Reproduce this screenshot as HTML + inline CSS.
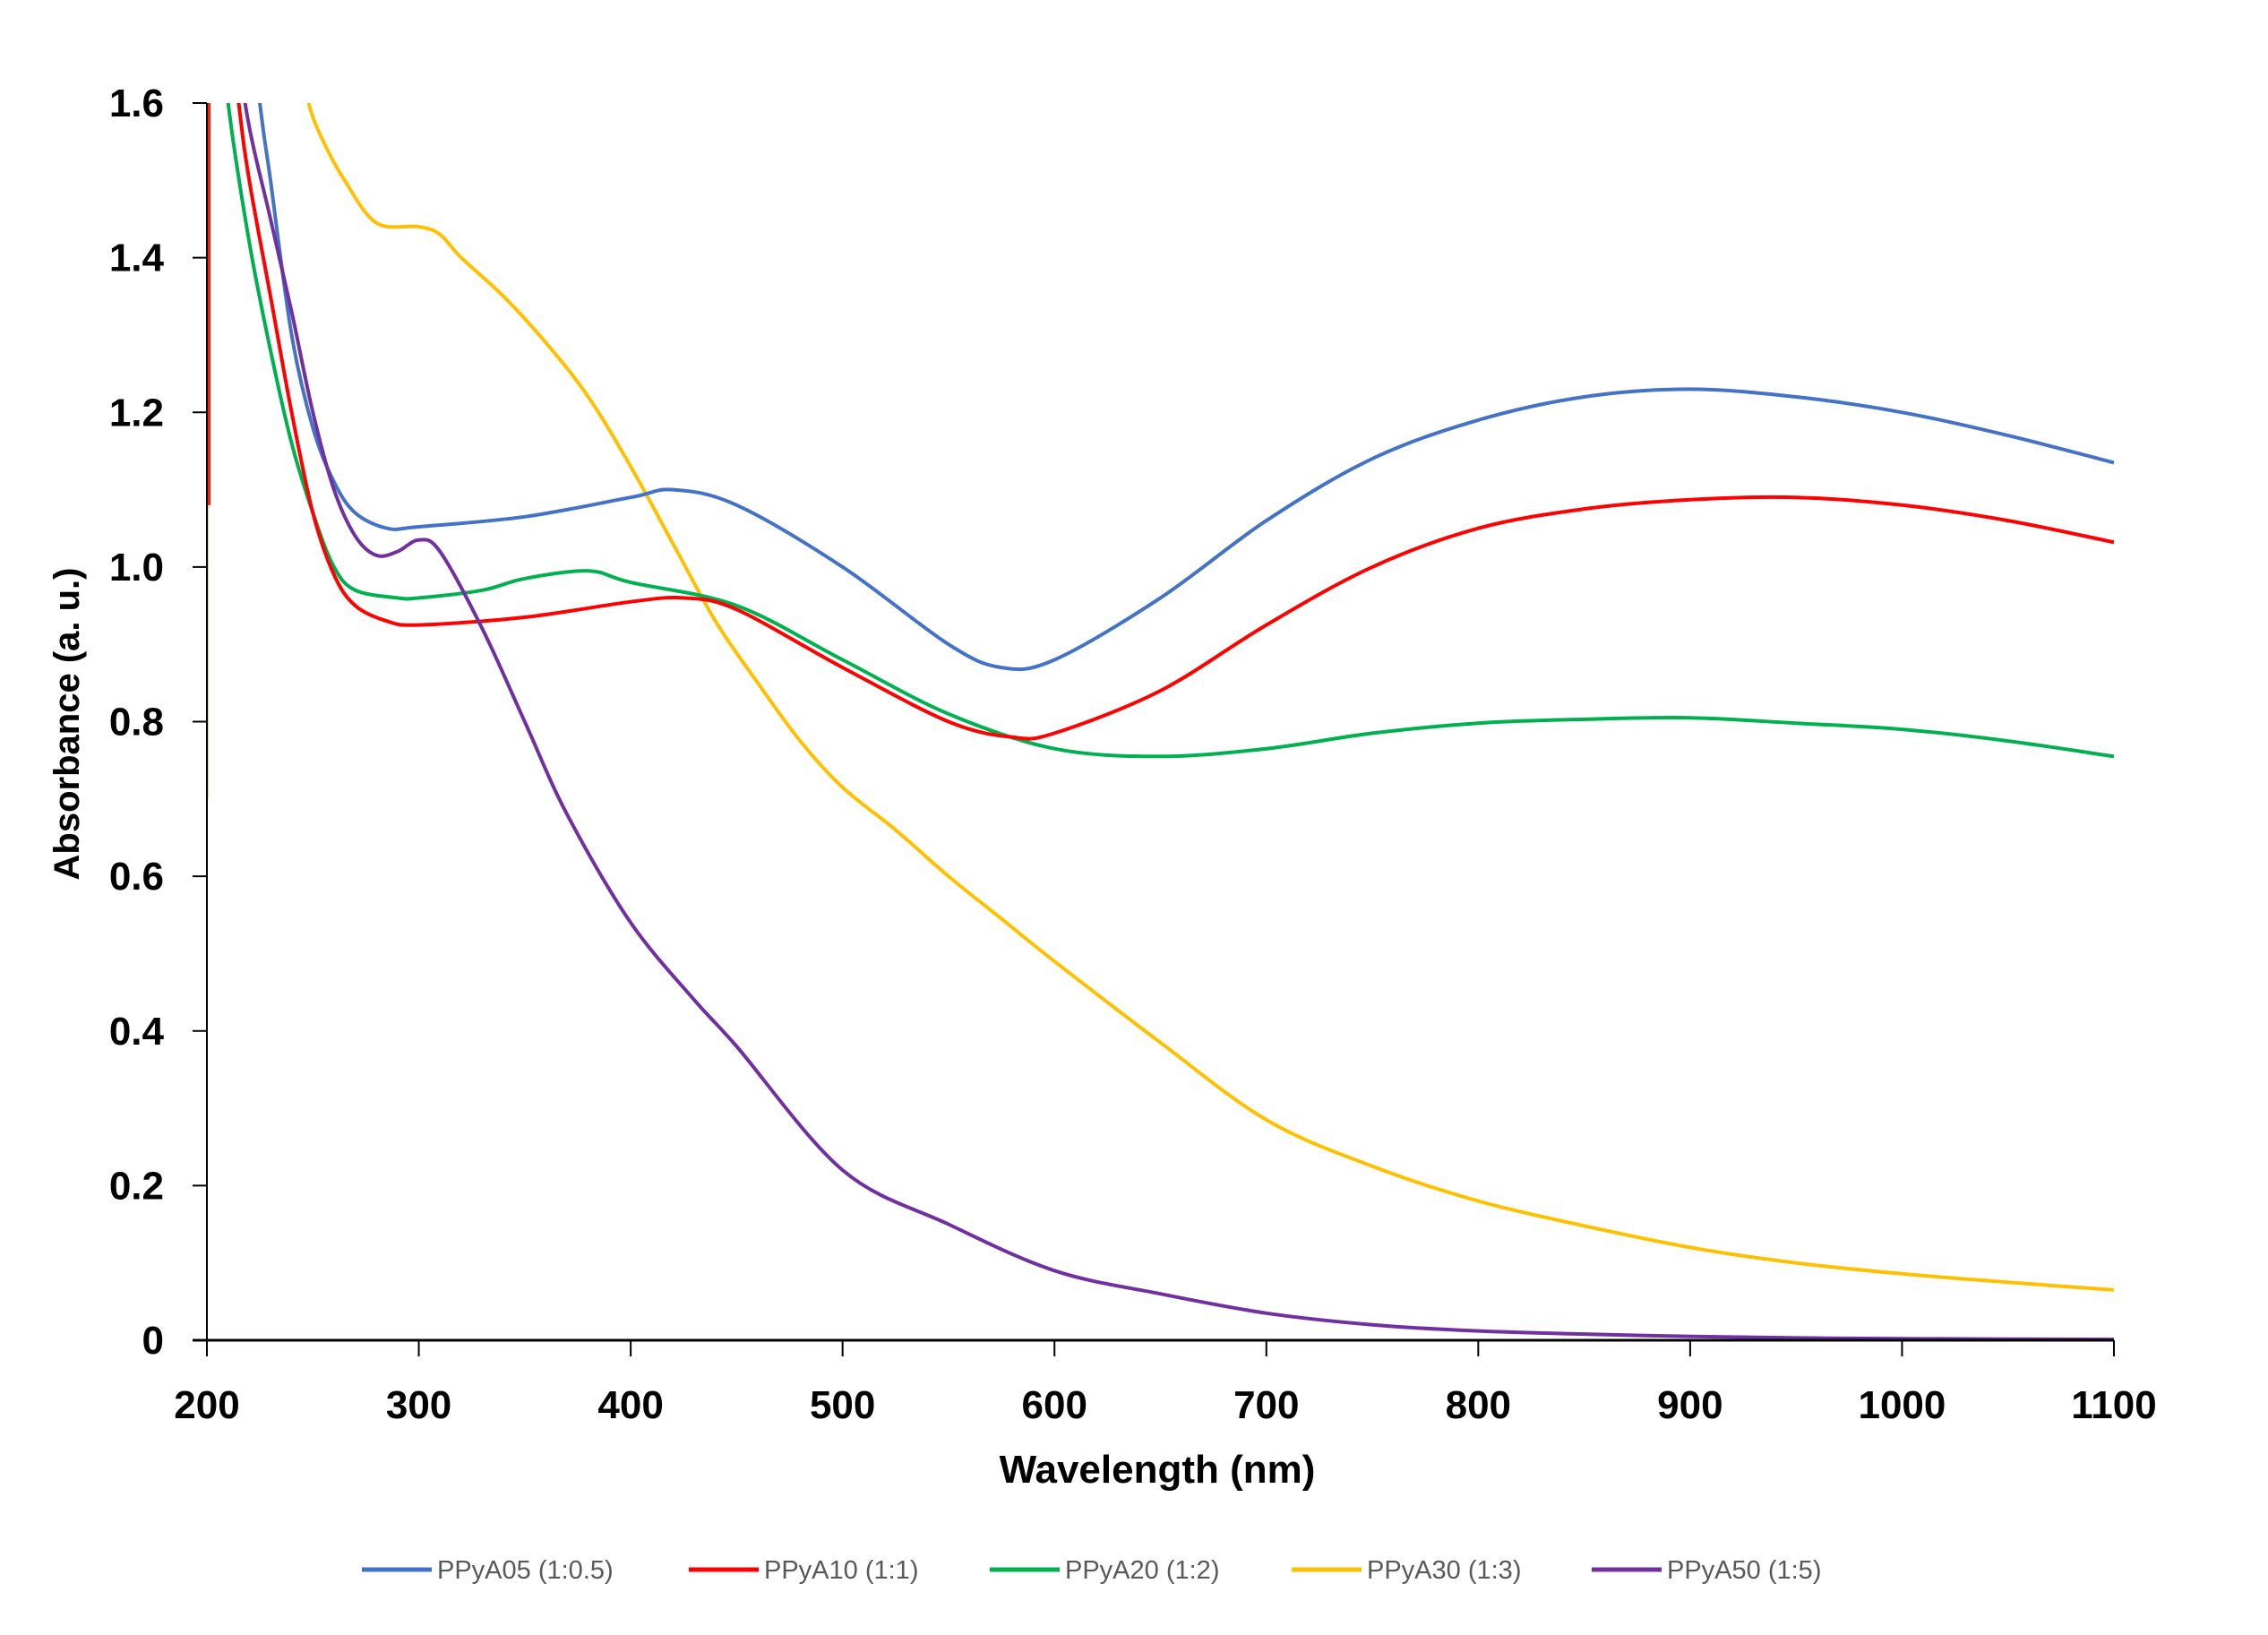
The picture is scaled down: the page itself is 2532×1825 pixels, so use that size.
<!DOCTYPE html>
<html><head><meta charset="utf-8"><style>
html,body{margin:0;padding:0;background:#fff;}
svg{display:block;}
text{font-family:"Liberation Sans",Arial,sans-serif;}
</style></head><body>
<svg id="chart" width="2532" height="1825" viewBox="0 0 2532 1825">
<defs><clipPath id="plotclip"><rect x="231" y="115" width="2135" height="1385"/></clipPath></defs>
<g id="series" clip-path="url(#plotclip)"></g>
<g id="axes"></g>
<text x="1292" y="1655" text-anchor="middle" font-size="44" font-weight="bold">Wavelength (nm)</text>
<text transform="translate(88,808) rotate(-90)" text-anchor="middle" font-size="40" font-weight="bold">Absorbance (a. u.)</text>
<g id="legend"></g>
</svg>
<script>
const xTicks = [200,300,400,500,600,700,800,900,1000,1100];
const yTicks = [0,0.2,0.4,0.6,0.8,1.0,1.2,1.4,1.6];
const yTickLabels = ["0","0.2","0.4","0.6","0.8","1.0","1.2","1.4","1.6"];
const seriesNames = ["PPyA05 (1:0.5)","PPyA10 (1:1)","PPyA20 (1:2)","PPyA30 (1:3)","PPyA50 (1:5)"];
const seriesColors = ["#4472C4","#FF0000","#00B050","#FFC000","#7030A0"];
const wlBlue = [215,225,230,240,250,260,270,285,300,350,400,420,450,500,550,575,600,650,700,750,800,850,900,950,1000,1050,1100];
const absBlue = [1.85,1.6,1.5,1.3,1.18,1.11,1.07,1.05,1.052,1.065,1.09,1.10,1.08,1.0,0.90,0.87,0.88,0.96,1.06,1.14,1.19,1.22,1.23,1.22,1.20,1.17,1.135];
const wlRed = [207,215,220,230,240,250,260,270,285,300,350,400,425,450,500,550,580,600,650,700,750,800,850,900,950,1000,1050,1100];
const absRed = [1.8,1.6,1.5,1.35,1.2,1.07,0.99,0.95,0.93,0.925,0.935,0.955,0.96,0.945,0.87,0.80,0.78,0.785,0.84,0.925,1.0,1.05,1.075,1.087,1.09,1.08,1.06,1.032];
const wlGreen = [203,210,220,230,240,250,260,270,290,300,330,350,380,400,450,500,550,600,650,700,750,800,850,900,950,1000,1050,1100];
const absGreen = [1.8,1.6,1.42,1.28,1.16,1.07,1.0,0.97,0.96,0.96,0.97,0.985,0.995,0.98,0.95,0.88,0.81,0.765,0.755,0.765,0.785,0.798,0.803,0.805,0.798,0.79,0.775,0.755];
const wlYellow = [240,248,255,265,280,300,310,320,340,360,380,400,420,440,460,480,500,525,550,575,600,650,700,750,800,850,900,950,1000,1050,1100];
const absYellow = [1.7,1.6,1.55,1.5,1.445,1.44,1.43,1.40,1.35,1.29,1.22,1.13,1.03,0.93,0.85,0.775,0.715,0.66,0.60,0.545,0.49,0.385,0.285,0.225,0.18,0.148,0.12,0.10,0.086,0.075,0.065];
const wlPurple = [210,218,230,240,250,260,270,280,290,300,310,330,350,370,400,430,450,500,550,600,650,700,750,800,850,900,950,1000,1100];
const absPurple = [1.8,1.6,1.45,1.33,1.2,1.1,1.04,1.015,1.02,1.035,1.02,0.92,0.80,0.68,0.54,0.44,0.38,0.22,0.15,0.09,0.06,0.035,0.02,0.012,0.008,0.005,0.003,0.002,0.001];
const seriesWl = [wlBlue,wlRed,wlGreen,wlYellow,wlPurple];
const seriesAbs = [absBlue,absRed,absGreen,absYellow,absPurple];
const spikeRedAbs = [1.08,1.6];
const spikeYellowAbs = [0.7,1.08];

const X0=231, X1=2360, Y0=1496, Y1=115;
function xScale(v){return X0+(v-200)/(1100-200)*(X1-X0);}
function yScale(v){return Y0-(v-0)/(1.6-0)*(Y0-Y1);}
const NS="http://www.w3.org/2000/svg";
function mk(tag,attrs,parent){const e=document.createElementNS(NS,tag);for(const k in attrs)e.setAttribute(k,attrs[k]);parent.appendChild(e);return e;}
function smoothPath(P){
  let d='M'+P[0][0].toFixed(1)+','+P[0][1].toFixed(1);
  for(let i=0;i<P.length-1;i++){
    const p0=P[i-1]||P[i],p1=P[i],p2=P[i+1],p3=P[i+2]||P[i+1];
    const c1=[p1[0]+(p2[0]-p0[0])/6,p1[1]+(p2[1]-p0[1])/6];
    const c2=[p2[0]-(p3[0]-p1[0])/6,p2[1]-(p3[1]-p1[1])/6];
    d+=' C'+c1[0].toFixed(1)+','+c1[1].toFixed(1)+' '+c2[0].toFixed(1)+','+c2[1].toFixed(1)+' '+p2[0].toFixed(1)+','+p2[1].toFixed(1);
  }
  return d;
}

const sg=document.getElementById('series');
const sy=mk('line',{x1:xScale(200),y1:yScale(spikeYellowAbs[0]),x2:xScale(200),y2:yScale(spikeYellowAbs[1]),stroke:'#E0A030','stroke-width':3},sg);


const sr=mk('line',{x1:xScale(200)+2,y1:yScale(spikeRedAbs[0]),x2:xScale(200)+2,y2:yScale(spikeRedAbs[1]),stroke:'#FF2000','stroke-width':4},sg);


const order=[3,2,1,0,4];
order.forEach(i=>{
  const P=seriesWl[i].map((w,j)=>[xScale(w),yScale(seriesAbs[i][j])]);
  const p=mk('path',{d:smoothPath(P),fill:'none',stroke:seriesColors[i],'stroke-width':4,'stroke-linejoin':'round'},sg);
  
  
});

const ax=document.getElementById('axes');
const yl=mk('line',{x1:X0,y1:Y1,x2:X0,y2:Y0,stroke:'#000','stroke-width':2},ax);


const xl=mk('line',{x1:X0-16,y1:Y0,x2:X1,y2:Y0,stroke:'#000','stroke-width':3},ax);


yTicks.forEach((v,i)=>{
  const y=yScale(v);
  mk('line',{x1:X0-16,y1:y,x2:X0,y2:y,stroke:'#000','stroke-width':2},ax);
  const t=mk('text',{x:183,y:y+15,'text-anchor':'end','font-size':44,'font-weight':'bold'},ax);
  t.textContent=yTickLabels[i];
  
  
});
xTicks.forEach(v=>{
  const x=xScale(v);
  mk('line',{x1:x,y1:Y0,x2:x,y2:Y0+18,stroke:'#000','stroke-width':2},ax);
  const t=mk('text',{x:x,y:1583,'text-anchor':'middle','font-size':44,'font-weight':'bold'},ax);
  t.textContent=String(v);
  
  
});

const lg=document.getElementById('legend');
const legX=[404,769,1105,1442,1777];
seriesNames.forEach((n,i)=>{
  const g=mk('g',{},lg);
  
  
  mk('line',{x1:legX[i],y1:1752,x2:legX[i]+78,y2:1752,stroke:seriesColors[i],'stroke-width':5},g);
  const t=mk('text',{x:legX[i]+84,y:1762,'font-size':29,fill:'#595959'},g);
  t.textContent=n;
});
</script>
</body></html>
